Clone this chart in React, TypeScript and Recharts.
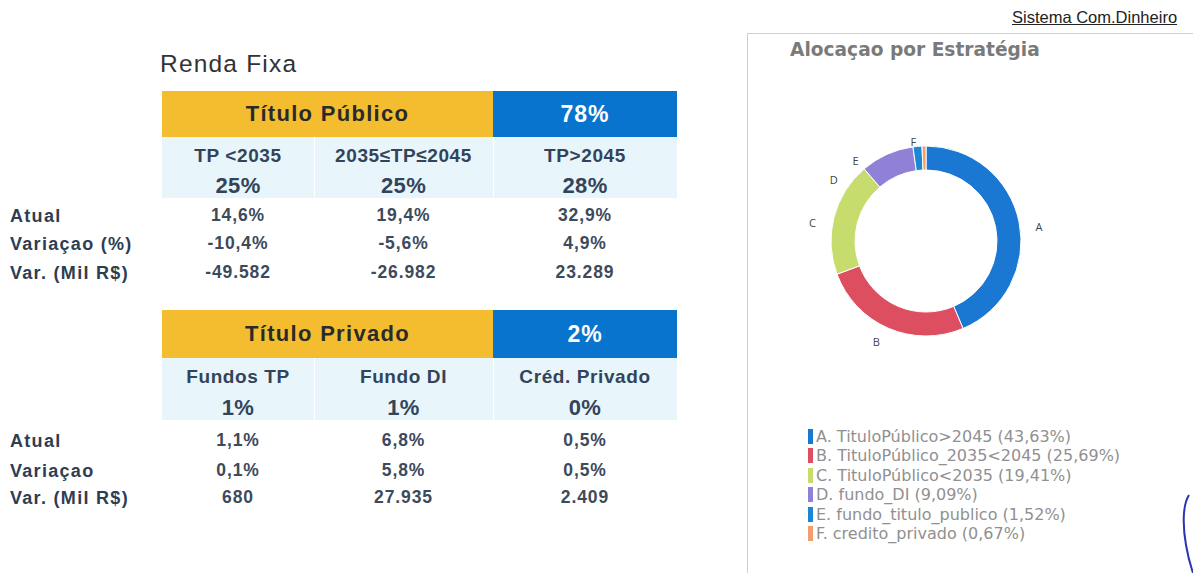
import { PieChart, Pie, Cell } from "recharts";

// donut data
const categories = ["A", "B", "C", "D", "E", "F"];
const seriesNames = [
  "TituloPúblico>2045",
  "TituloPúblico_2035<2045",
  "TituloPúblico<2035",
  "fundo_DI",
  "fundo_titulo_publico",
  "credito_privado",
];
const shares = [43.63, 25.69, 19.41, 9.09, 1.52, 0.67];
const shareLabels = ["43,63%", "25,69%", "19,41%", "9,09%", "1,52%", "0,67%"];
const colors = ["#1a78d3", "#dc4e60", "#c6dc6c", "#9081d6", "#1a88d4", "#f39c6c"];

// table data
const rowLabelsPub = ["Atual", "Variaçao (%)", "Var. (Mil R$)"];
const rowLabelsPriv = ["Atual", "Variaçao", "Var. (Mil R$)"];

const pubHeader = "Título Público";
const pubShare = "78%";
const pubCols = ["TP <2035", "2035≤TP≤2045", "TP>2045"];
const pubTargets = ["25%", "25%", "28%"];
const pubAtual = ["14,6%", "19,4%", "32,9%"];
const pubVarPct = ["-10,4%", "-5,6%", "4,9%"];
const pubVarMil = ["-49.582", "-26.982", "23.289"];

const privHeader = "Título Privado";
const privShare = "2%";
const privCols = ["Fundos TP", "Fundo DI", "Créd. Privado"];
const privTargets = ["1%", "1%", "0%"];
const privAtual = ["1,1%", "6,8%", "0,5%"];
const privVar = ["0,1%", "5,8%", "0,5%"];
const privVarMil = ["680", "27.935", "2.409"];

// letter label nudges (degrees clockwise) and gap from the ring
const labelShift = [4, 3, -5, -32, -36, -6];
const labelGap = [19, 17, 20, 16, 12, 5];

const YELLOW = "#f4bd30";
const BLUE = "#0874ce";
const SUB_BG = "#e8f5fa";
const LABEL_C = "#2e3d52";
const VALUE_C = "#3d4a5b";

const colX = [162, 314, 493, 677];

function Txt({
  cx,
  cy,
  w,
  children,
  size,
  color,
  bold = true,
  ls = 0,
  align = "center",
  left,
}: any) {
  return (
    <div
      style={{
        position: "absolute",
        left: left !== undefined ? left : cx - w / 2,
        top: cy - 15,
        width: w,
        height: 30,
        lineHeight: "30px",
        textAlign: align,
        fontSize: size,
        fontWeight: bold ? 700 : 400,
        color,
        letterSpacing: ls,
        whiteSpace: "nowrap",
      }}
    >
      {children}
    </div>
  );
}

function Block({
  top,
  header,
  share,
  cols,
  targets,
  rows,
  labels,
  ys,
}: {
  top: number;
  header: string;
  share: string;
  cols: string[];
  targets: string[];
  rows: string[][];
  labels: string[];
  ys: number[];
}) {
  const [hH, sub1, sub2, subEnd, r1, r2, r3] = ys;
  const rowY = [r1, r2, r3];
  const centers = [0, 1, 2].map((i) => (colX[i] + colX[i + 1]) / 2);
  return (
    <>
      <div
        style={{
          position: "absolute",
          left: colX[0],
          top,
          width: colX[2] - colX[0],
          height: hH,
          background: YELLOW,
        }}
      />
      <div
        style={{
          position: "absolute",
          left: colX[2],
          top,
          width: colX[3] - colX[2],
          height: hH,
          background: BLUE,
        }}
      />
      <Txt cx={(colX[0] + colX[2]) / 2} cy={top + hH / 2} w={320} size={22} ls={1.3} color="#2a2a2a">
        {header}
      </Txt>
      <Txt cx={centers[2]} cy={top + hH / 2} w={180} size={23} ls={1} color="#ffffff">
        {share}
      </Txt>
      {[0, 1, 2].map((i) => (
        <div
          key={"bg" + i}
          style={{
            position: "absolute",
            left: colX[i] + (i > 0 ? 1 : 0),
            top: top + hH,
            width: colX[i + 1] - colX[i] - (i > 0 ? 1 : 0),
            height: subEnd - hH,
            background: SUB_BG,
          }}
        />
      ))}
      {cols.map((c, i) => (
        <Txt key={"c" + i} cx={centers[i]} cy={top + sub1} w={170} size={19} ls={0.6} color="#33445a">
          {c}
        </Txt>
      ))}
      {targets.map((c, i) => (
        <Txt key={"t" + i} cx={centers[i]} cy={top + sub2 + 1} w={170} size={22} ls={0.4} color="#33445a">
          {c}
        </Txt>
      ))}
      {labels.map((l, r) => (
        <Txt key={"l" + r} left={10} cy={top + rowY[r] + 1} w={150} align="left" size={18} ls={1.3} color={LABEL_C}>
          {l}
        </Txt>
      ))}
      {rows.map((row, r) =>
        row.map((v, i) => (
          <Txt key={"v" + r + i} cx={centers[i]} cy={top + rowY[r]} w={170} size={17.5} ls={0.9} color={VALUE_C}>
            {v}
          </Txt>
        ))
      )}
    </>
  );
}

function DonutLabel(props: any) {
  const { cx, cy, midAngle, outerRadius, index } = props;
  const ang = ((midAngle - labelShift[index]) * Math.PI) / 180;
  const r = outerRadius + labelGap[index];
  return (
    <text
      x={cx + r * Math.cos(ang)}
      y={cy - r * Math.sin(ang)}
      textAnchor="middle"
      dominantBaseline="central"
      fontSize={11}
      fontFamily='"Open Sans", sans-serif'
      fill="#444"
    >
      {categories[index]}
    </text>
  );
}

export default function App() {
  const data = categories.map((c, i) => ({ name: c, value: shares[i] }));
  return (
    <div
      style={{
        position: "absolute",
        left: 0,
        top: 0,
        width: 1193,
        height: 573,
        overflow: "hidden",
        background: "#fff",
        fontFamily: '"Liberation Sans", Arial, sans-serif',
      }}
    >
      <div
        style={{
          position: "absolute",
          left: 160,
          top: 49,
          fontSize: 24.5,
          lineHeight: "30px",
          color: "#333",
          letterSpacing: 1.2,
        }}
      >
        Renda Fixa
      </div>

      <Block
        top={91}
        header={pubHeader}
        share={pubShare}
        cols={pubCols}
        targets={pubTargets}
        rows={[pubAtual, pubVarPct, pubVarMil]}
        labels={rowLabelsPub}
        ys={[46, 65, 94, 107, 124, 152, 181]}
      />
      <Block
        top={310}
        header={privHeader}
        share={privShare}
        cols={privCols}
        targets={privTargets}
        rows={[privAtual, privVar, privVarMil]}
        labels={rowLabelsPriv}
        ys={[48, 67, 97, 110, 130, 160, 187]}
      />

      <div
        style={{
          position: "absolute",
          left: 1012,
          top: 6,
          fontSize: 16.5,
          lineHeight: "22px",
          color: "#222",
          textDecoration: "underline",
          whiteSpace: "nowrap",
        }}
      >
        Sistema Com.Dinheiro
      </div>

      <div
        style={{
          position: "absolute",
          left: 747,
          top: 33,
          width: 470,
          height: 570,
          border: "1.5px solid #c2e09c",
          fontFamily: '"DejaVu Sans", sans-serif',
        }}
      >
        <div
          style={{
            position: "absolute",
            left: 42,
            top: 3,
            fontSize: 18.6,
            fontWeight: 700,
            color: "#7a7a7a",
            lineHeight: "26px",
            whiteSpace: "nowrap",
          }}
        >
          Alocaçao por Estratégia
        </div>
        <div style={{ position: "absolute", left: 0, top: 0 }}>
          <PieChart width={445} height={390}>
            <Pie
              data={data}
              dataKey="value"
              cx={173}
              cy={202}
              innerRadius={71}
              outerRadius={95}
              startAngle={90}
              endAngle={-270}
              stroke="#ffffff"
              strokeWidth={1}
              label={DonutLabel}
              labelLine={false}
              isAnimationActive={false}
            >
              {data.map((d, i) => (
                <Cell key={d.name} fill={colors[i]} />
              ))}
            </Pie>
          </PieChart>
        </div>
        {categories.map((c, i) => (
          <div
            key={c}
            style={{
              position: "absolute",
              left: 60,
              top: 393 + i * 19.4,
              height: 20,
              lineHeight: "20px",
              fontSize: 16,
              color: "#909090",
              whiteSpace: "nowrap",
            }}
          >
            <span
              style={{
                display: "inline-block",
                width: 5,
                height: 15,
                background: colors[i],
                verticalAlign: "-2px",
                marginRight: 3,
              }}
            />
            {c}. {seriesNames[i]} ({shareLabels[i]})
          </div>
        ))}
      </div>

      <svg style={{ position: "absolute", left: 0, top: 0 }} width={1193} height={573}>
        <path
          d="M 1189 495 C 1182 506, 1183 528, 1186 545 C 1188 557, 1191 567, 1193 573"
          stroke="#2a34b0"
          strokeWidth={2}
          fill="none"
        />
      </svg>
    </div>
  );
}
